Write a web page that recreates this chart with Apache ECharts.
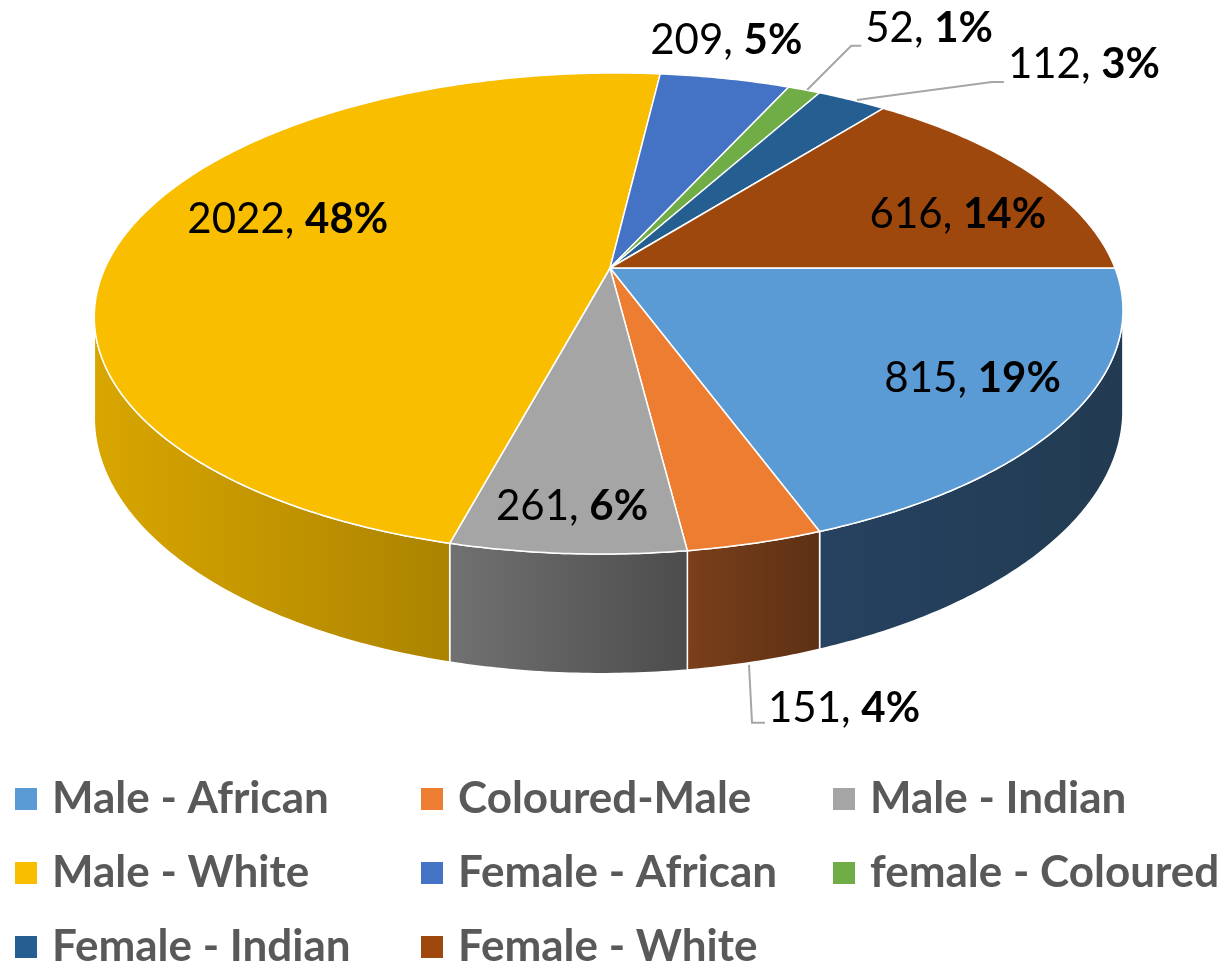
<!DOCTYPE html>
<html>
<head>
<meta charset="utf-8">
<script src="https://cdn.jsdelivr.net/npm/echarts@6/dist/echarts.min.js"></script>
<style>
    html, body { margin: 0; padding: 0; background: #fff; }
    #main { width: 1228px; height: 964px; }
</style>
</head>
<body>
<div id="main"></div>
<script>
    // data
    var categories = ['Male - African', 'Coloured-Male', 'Male - Indian', 'Male - White',
        'Female - African', 'female - Coloured', 'Female - Indian', 'Female - White'];
    var counts = [815, 151, 261, 2022, 209, 52, 112, 616];
    var percents = [19, 4, 6, 48, 5, 1, 3, 14];

    // colours (top face, then side gradient left -> right)
    var topColors = ['#5b9bd5', '#ed7d31', '#a5a5a5', '#f9be00', '#4472c4', '#70ad47', '#255e91', '#9e480e'];
    var sideColors = [['#264260', '#223b52'], ['#7b3f1b', '#5c3114'], ['#717171', '#4c4c4c'], ['#d9a600', '#ab8300'],
        ['#2f4f88', '#2a4679'], ['#4e7932', '#456b2c'], ['#1a4265', '#173a59'], ['#6f320a', '#632d09']];

    // label placement: inside labels -> r + offset of centre; outside -> leader line offsets
    var labelLayout = [
        {r: 0.7, dx: 51, dy: 11},
        {r: 1, down: true, line: [[-6, 3], [-3, 61], [10, 61]], tx: 13, ty: 47},
        {r: 0.7, dx: -10, dy: 52},
        {r: 0.7, dx: 17, dy: -21},
        {r: 1, dx: 1, dy: -38},
        {r: 1, line: [[3, 0], [47, -44], [57, -44]], tx: 61, ty: -61},
        {r: 1, line: [[5, 0], [140, -18], [152, -18]], tx: 156, ty: -36},
        {r: 0.7, dx: 46, dy: 14}
    ];

    // fake 3d pie geometry
    var CX = 610, CY = 268, RX = 505, RY = 231.9, PERSP = 0.1892, DEPTH = 97, SKEW = -7;
    var EDGE = Math.asin(PERSP);
    var FONT = 'Lato';

    var total = 0, cum = [0];
    for (var k = 0; k < counts.length; k++) {
        total += counts[k];
        cum.push(total);
    }

    function project(theta, r, down) {
        var X = r * Math.cos(theta), Z = r * Math.sin(theta);
        var s = 1 / (1 - PERSP * Z);
        return [CX + (RX * X + SKEW * Z) * s, CY + (RY * Z + (down || 0)) * s];
    }

    function arc(a, b, down) {
        var n = Math.max(2, Math.ceil((b - a) / 0.01) + 1), pts = [];
        for (var j = 0; j < n; j++) {
            pts.push(project(a + (b - a) * j / (n - 1), 1, down));
        }
        return pts;
    }

    function renderSlice(params, api) {
        var i = params.seriesIndex;
        var a = cum[i] / total * Math.PI * 2;
        var b = cum[i + 1] / total * Math.PI * 2;
        var children = [];

        // visible outer side
        var lo = Math.max(a, EDGE), hi = Math.min(b, Math.PI - EDGE);
        if (hi > lo) {
            children.push({
                type: 'polygon', z2: 1,
                shape: {points: arc(lo, hi, 0).concat(arc(lo, hi, DEPTH).reverse())},
                style: {
                    fill: new echarts.graphic.LinearGradient(0, 0, 1, 0, [
                        {offset: 0, color: sideColors[i][0]},
                        {offset: 1, color: sideColors[i][1]}
                    ]),
                    stroke: '#fff', lineWidth: 1.5
                }
            });
        }

        // top face
        children.push({
            type: 'polygon', z2: 5,
            shape: {points: [project(0, 0, 0)].concat(arc(a, b, 0))},
            style: {fill: topColors[i], stroke: '#fff', lineWidth: 1.5, lineJoin: 'round'}
        });

        // label
        var L = labelLayout[i], mid = (a + b) / 2;
        var anchor = project(mid, L.r, L.down ? DEPTH : 0);
        var tx, ty, align;
        if (L.line) {
            children.push({
                type: 'polyline', z2: 50,
                shape: {points: L.line.map(function (p) { return [anchor[0] + p[0], anchor[1] + p[1]]; })},
                style: {stroke: '#a6a6a6', lineWidth: 2, fill: null}
            });
            tx = anchor[0] + L.tx; ty = anchor[1] + L.ty; align = 'left';
        } else {
            tx = anchor[0] + L.dx; ty = anchor[1] + L.dy; align = 'center';
        }
        children.push({
            type: 'text', z2: 100,
            style: {
                text: counts[i] + ', {b|' + percents[i] + '%}',
                x: tx, y: ty, align: align, verticalAlign: 'middle',
                fontSize: 42, fontFamily: FONT, fill: '#000',
                rich: {b: {fontSize: 42, fontFamily: FONT, fontWeight: 'bold', fill: '#000'}}
            }
        });

        return {type: 'group', children: children};
    }

    var myChart = echarts.init(document.getElementById('main'));

    var series = categories.map(function (name, i) {
        return {
            type: 'custom',
            name: name,
            coordinateSystem: 'none',
            renderItem: renderSlice,
            data: [counts[i]],
            itemStyle: {color: topColors[i]},
            silent: true
        };
    });

    function legendCol(names, left) {
        return {
            data: names,
            left: left,
            top: 777,
            height: 240,
            orient: 'vertical',
            icon: 'rect',
            itemWidth: 22,
            itemHeight: 22,
            itemGap: 30,
            padding: 0,
            selectedMode: false,
            textStyle: {
                fontFamily: FONT, fontWeight: 'bold', fontSize: 44, color: '#595959',
                lineHeight: 40, padding: [0, 0, 0, 10]
            }
        };
    }

    var option = {
        animation: false,
        backgroundColor: '#fff',
        legend: [
            legendCol([categories[0], categories[3], categories[6]], 15),
            legendCol([categories[1], categories[4], categories[7]], 421),
            legendCol([categories[2], categories[5]], 833)
        ],
        series: series
    };
    myChart.setOption(option);
</script>
</body>
</html>
